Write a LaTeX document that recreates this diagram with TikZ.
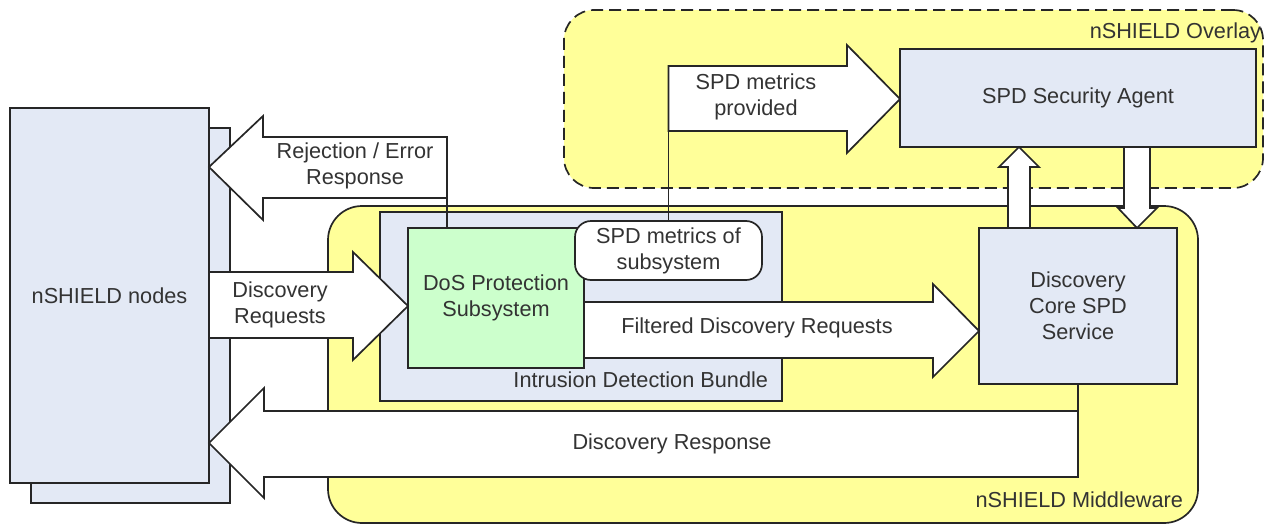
\documentclass[tikz,border=0pt]{standalone}
\usepackage{fontspec}
\setmainfont{Liberation Sans}
\usetikzlibrary{calc}
\definecolor{boxblue}{HTML}{E3E9F5}
\definecolor{ylw}{HTML}{FFFF99}
\definecolor{grn}{HTML}{CCFFCC}
\definecolor{linec}{HTML}{262626}
\definecolor{txtc}{HTML}{333333}
\begin{document}
\begin{tikzpicture}[x=1pt,y=-1pt,
  every node/.style={font=\fontsize{21.7}{26}\selectfont, text=txtc, inner sep=0pt, outer sep=0pt},
  box/.style={draw=linec, line width=1.7pt, align=center},
  bluebox/.style={box, fill=boxblue},
  greenbox/.style={box, fill=grn},
  region/.style={draw=linec, line width=1.7pt, rounded corners=34pt, fill=ylw},
  blockarr/.style={draw=linec, line width=1.7pt, fill=white, line join=miter},
  link/.style={draw=linec, line width=1.7pt},
  lbl/.style={align=center}
]
\useasboundingbox (0,0) rectangle (1265,525);

% nSHIELD nodes (stack)
\node[bluebox, minimum width=199pt, minimum height=375pt] (back) at (130.5,315.5) {};
\node[bluebox, minimum width=199pt, minimum height=375pt] (front) at (109.5,295.5) {nSHIELD nodes};

% regions
\node[region, minimum width=870pt, minimum height=317pt] (mw) at (763,364.5) {};
\node[anchor=east] (mwlabel) at (1183,500) {nSHIELD Middleware};
\node[region, dash pattern=on 12pt off 6pt, rounded corners=30pt, minimum width=699pt, minimum height=178pt] (ov) at (913.5,99) {};
\node[anchor=east] (ovlabel) at (1261,33) {nSHIELD Overlay};

% bundle
\node[bluebox, minimum width=402pt, minimum height=189pt] (bundle) at (581,306.5) {};
\node[anchor=east] (bundlelabel) at (768,380) {Intrusion Detection Bundle};
\node[greenbox, minimum width=176pt, minimum height=140pt] (dos) at (496,298) {DoS Protection\\Subsystem};
\node[box, fill=white, rounded corners=16pt, minimum width=187pt, minimum height=59pt] (metrics) at (668.5,250.5) {SPD metrics of\\subsystem};

% agent and core
\node[bluebox, minimum width=356pt, minimum height=98pt] (agent) at (1078,98) {SPD Security Agent};
\node[bluebox, minimum width=198pt, minimum height=156pt] (core) at (1078,306) {Discovery\\Core SPD\\Service};

% helper coordinates
\coordinate (yrej) at (0,167);
\coordinate (yreq) at (0,306);
\coordinate (yfil) at (0,331);
\coordinate (yprov) at (0,99);
\coordinate (yresp) at (0,443);
\coordinate (xup) at (1019,0);
\coordinate (xdown) at (1137,0);

% Rejection / Error Response
\coordinate (rejtip) at (front.east |- yrej);
\draw[blockarr] (rejtip) -- ++(54,-51) -- ++(0,21) -- ++(184,0) coordinate (rejTR) -- ++(0,61) coordinate (rejBR) -- ++(-184,0) -- ++(0,22) -- cycle;
\draw[link] (rejBR) -- (rejBR |- dos.north);
\node[lbl] (rejlabel) at (355,166) {Rejection / Error\\Response};

% Discovery Requests
\coordinate (reqtip) at (dos.west |- yreq);
\draw[blockarr] (reqtip) -- ++(-55,-54) -- ++(0,20) -- (front.east |- 0,272) -- (front.east |- 0,338) -- ($(reqtip)+(-55,32)$) -- ++(0,22) -- cycle;
\node[lbl] (reqlabel) at (280,305) {Discovery\\Requests};

% Filtered Discovery Requests
\coordinate (filtip) at (core.west |- yfil);
\draw[blockarr] (filtip) -- ++(-46,-47) -- ++(0,18) -- (dos.east |- 0,302) -- (dos.east |- 0,358) -- ($(filtip)+(-46,27)$) -- ++(0,19) -- cycle;
\node[lbl] (fillabel) at (757,328) {Filtered Discovery Requests};

% SPD metrics provided
\coordinate (provtip) at (agent.west |- yprov);
\draw[blockarr] (provtip) -- ++(-53,-54) -- ++(0,21) -- (metrics.north |- 0,66) coordinate (provTL) -- (metrics.north |- 0,131) coordinate (provBL) -- ($(provtip)+(-53,32)$) -- ++(0,22) -- cycle;
\draw[link] (provBL) -- (metrics.north);
\node[lbl] (provlabel) at (756,97) {SPD metrics\\provided};

% Discovery Response
\coordinate (resptip) at (front.east |- yresp);
\draw[blockarr] (resptip) -- ++(55,-55) -- ++(0,23) -- (core.south |- 0,411) coordinate (respTR) -- (core.south |- 0,477) -- ($(resptip)+(55,34)$) -- ++(0,21) -- cycle;
\draw[link] (core.south) -- (respTR);
\node[lbl] (resplabel) at (672,444) {Discovery Response};

% Core -> Agent (up)
\coordinate (uptip) at (agent.south -| xup);
\draw[blockarr] (uptip) -- ++(20,20) -- ++(-9,0) -- (core.north -| 1030,0) -- (core.north -| 1008,0) -- ($(uptip)+(-11,20)$) -- ++(-9,0) -- cycle;

% Agent -> Core (down)
\coordinate (downtip) at (core.north -| xdown);
\draw[blockarr] (downtip) -- ++(20,-20) -- ++(-7,0) -- (agent.south -| 1150,0) -- (agent.south -| 1124,0) -- ($(downtip)+(-13,-20)$) -- ++(-6,0) -- cycle;
\end{tikzpicture}
\end{document}
